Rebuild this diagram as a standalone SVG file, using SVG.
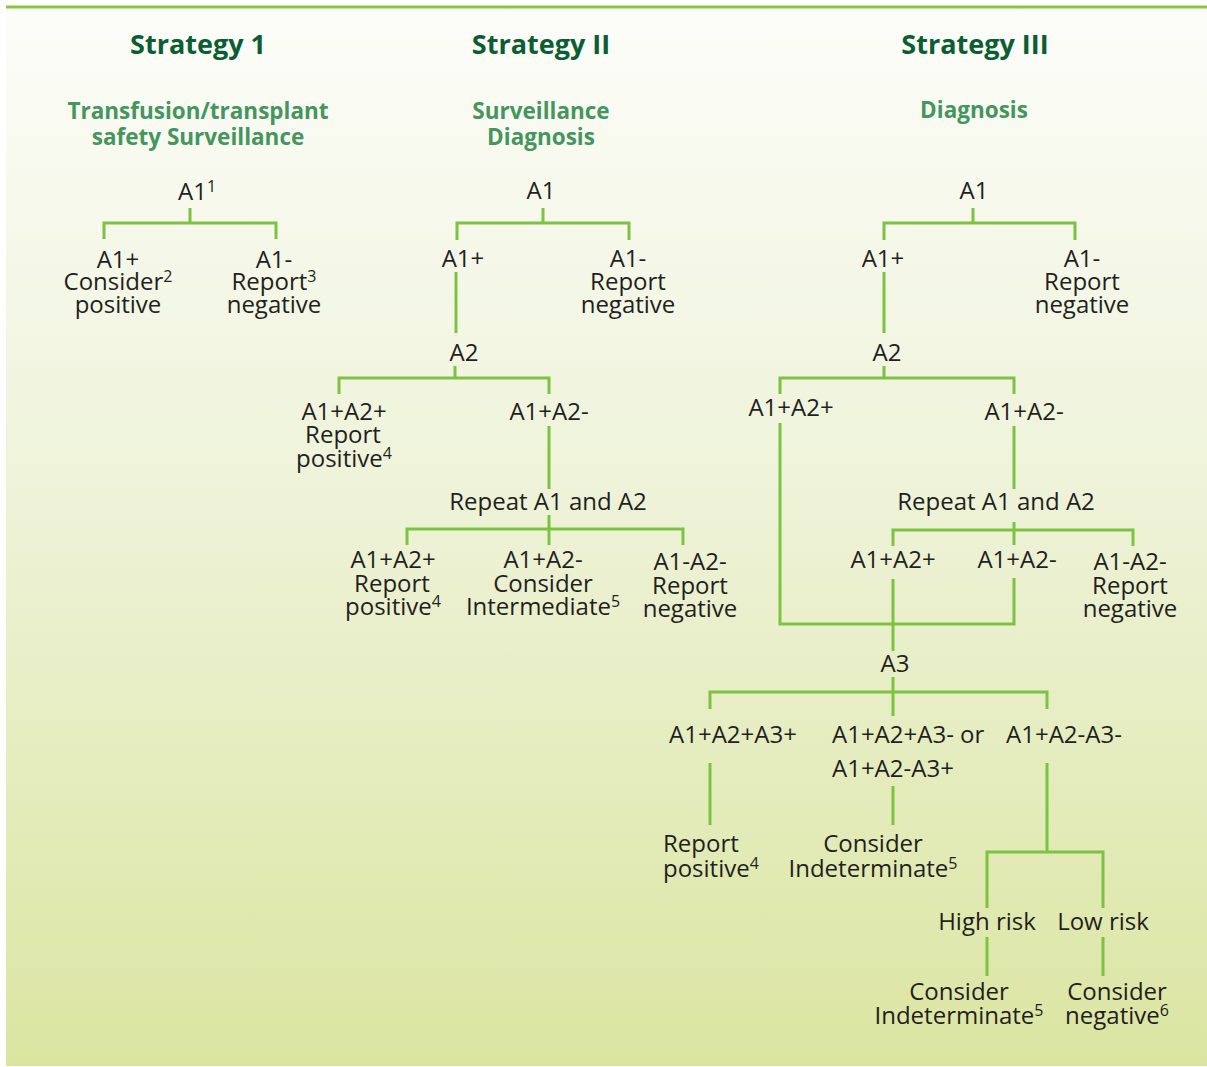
<svg xmlns="http://www.w3.org/2000/svg" width="1207" height="1067" viewBox="0 0 1207 1067">
<defs>
<linearGradient id="bg" x1="0" y1="0" x2="0" y2="1">
<stop offset="0" stop-color="#fcfdf9"/>
<stop offset="0.45" stop-color="#eef3d9"/>
<stop offset="1" stop-color="#dbe5a1"/>
</linearGradient>
<style>
.t{font-family:"Open Sans","Liberation Sans",sans-serif;font-size:24px;fill:#231f20;text-anchor:middle}
.h{font-family:"Open Sans","Liberation Sans",sans-serif;font-size:27px;font-weight:bold;fill:#0b5e33;text-anchor:middle}
.s{font-family:"Open Sans","Liberation Sans",sans-serif;font-size:22.5px;font-weight:bold;fill:#45955f;text-anchor:middle}
.l{text-anchor:start}
.sup{font-size:16px}
.c{fill:none;stroke:#7dc242;stroke-width:3}
</style>
</defs>
<rect x="0" y="0" width="1207" height="1067" fill="#ffffff"/>
<rect x="6" y="7" width="1201" height="1059" fill="url(#bg)"/>
<line x1="6" y1="7" x2="1207" y2="7" stroke="#8cc540" stroke-width="3"/>

<g id="connectors">
<path class="c" d="M190 208V223M104 239V223H276V239"/>
<path class="c" d="M543 208V223M457 240V223H629V240"/>
<path class="c" d="M456 272V333"/>
<path class="c" d="M455 366V378M339 394V378H549V394"/>
<path class="c" d="M549 426V489"/>
<path class="c" d="M549 515V545M407 545V529H683V545"/>
<path class="c" d="M973 208V223M884 240V223H1075V240"/>
<path class="c" d="M884 272V333"/>
<path class="c" d="M884 366V378M780 394V378H1014V394"/>
<path class="c" d="M780 423V624H1014V578"/>
<path class="c" d="M1014 426V489"/>
<path class="c" d="M1014 522V545M893 546V530H1133V546"/>
<path class="c" d="M893 579V651"/>
<path class="c" d="M893 677V716M710 709V692H1047V709"/>
<path class="c" d="M710 763V825"/>
<path class="c" d="M893 786V825"/>
<path class="c" d="M1047 763V852M987 908V852H1103V908"/>
<path class="c" d="M987 937V976M1103 937V976"/>
</g>

<g id="headings">
<text class="h" x="198" y="54">Strategy 1</text>
<text class="h" x="541" y="54">Strategy II</text>
<text class="h" x="975" y="54">Strategy III</text>
<text class="s" x="198" y="119">Transfusion/transplant</text>
<text class="s" x="198" y="145">safety Surveillance</text>
<text class="s" x="541" y="119">Surveillance</text>
<text class="s" x="541" y="145">Diagnosis</text>
<text class="s" x="974" y="118">Diagnosis</text>
</g>

<g id="s1-a1"><text class="t" x="197" y="200">A1<tspan class="sup" dy="-8">1</tspan></text></g>
<g id="s1-pos"><text class="t" x="118" y="268">A1+</text><text class="t" x="118" y="290">Consider<tspan class="sup" dy="-8">2</tspan></text><text class="t" x="118" y="313">positive</text></g>
<g id="s1-neg"><text class="t" x="274" y="268">A1-</text><text class="t" x="274" y="290">Report<tspan class="sup" dy="-8">3</tspan></text><text class="t" x="274" y="313">negative</text></g>

<g id="s2-a1"><text class="t" x="541" y="199">A1</text></g>
<g id="s2-pos"><text class="t" x="463" y="267">A1+</text></g>
<g id="s2-neg"><text class="t" x="628" y="267">A1-</text><text class="t" x="628" y="290">Report</text><text class="t" x="628" y="313">negative</text></g>
<g id="s2-a2"><text class="t" x="464" y="361">A2</text></g>
<g id="s2-pp"><text class="t" x="344" y="420">A1+A2+</text><text class="t" x="343" y="443">Report</text><text class="t" x="344" y="467">positive<tspan class="sup" dy="-8">4</tspan></text></g>
<g id="s2-pm"><text class="t" x="549" y="420">A1+A2-</text></g>
<g id="s2-repeat"><text class="t" x="548" y="510">Repeat A1 and A2</text></g>
<g id="s2-r-pp"><text class="t" x="393" y="568">A1+A2+</text><text class="t" x="392" y="592">Report</text><text class="t" x="393" y="615">positive<tspan class="sup" dy="-8">4</tspan></text></g>
<g id="s2-r-pm"><text class="t" x="543" y="568">A1+A2-</text><text class="t" x="543" y="592">Consider</text><text class="t" x="543" y="615">Intermediate<tspan class="sup" dy="-8">5</tspan></text></g>
<g id="s2-r-mm"><text class="t" x="690" y="570">A1-A2-</text><text class="t" x="690" y="594">Report</text><text class="t" x="690" y="617">negative</text></g>

<g id="s3-a1"><text class="t" x="974" y="199">A1</text></g>
<g id="s3-pos"><text class="t" x="883" y="267">A1+</text></g>
<g id="s3-neg"><text class="t" x="1082" y="267">A1-</text><text class="t" x="1082" y="290">Report</text><text class="t" x="1082" y="313">negative</text></g>
<g id="s3-a2"><text class="t" x="887" y="361">A2</text></g>
<g id="s3-pp"><text class="t" x="791" y="416">A1+A2+</text></g>
<g id="s3-pm"><text class="t" x="1024" y="420">A1+A2-</text></g>
<g id="s3-repeat"><text class="t" x="996" y="510">Repeat A1 and A2</text></g>
<g id="s3-r-pp"><text class="t" x="893" y="568">A1+A2+</text></g>
<g id="s3-r-pm"><text class="t" x="1017" y="568">A1+A2-</text></g>
<g id="s3-r-mm"><text class="t" x="1130" y="570">A1-A2-</text><text class="t" x="1130" y="594">Report</text><text class="t" x="1130" y="617">negative</text></g>
<g id="s3-a3"><text class="t" x="895" y="672">A3</text></g>
<g id="s3-ppp"><text class="t" x="733" y="743">A1+A2+A3+</text></g>
<g id="s3-mixed"><text class="t l" x="832" y="743">A1+A2+A3- or</text><text class="t l" x="832" y="777">A1+A2-A3+</text></g>
<g id="s3-pmm"><text class="t" x="1064" y="743">A1+A2-A3-</text></g>
<g id="s3-report-pos"><text class="t l" x="663" y="852">Report</text><text class="t l" x="663" y="877">positive<tspan class="sup" dy="-8">4</tspan></text></g>
<g id="s3-indet"><text class="t" x="873" y="852">Consider</text><text class="t" x="873" y="877">Indeterminate<tspan class="sup" dy="-8">5</tspan></text></g>
<g id="s3-high"><text class="t" x="987" y="930">High risk</text></g>
<g id="s3-low"><text class="t" x="1103" y="930">Low risk</text></g>
<g id="s3-high-out"><text class="t" x="959" y="1000">Consider</text><text class="t" x="959" y="1024">Indeterminate<tspan class="sup" dy="-8">5</tspan></text></g>
<g id="s3-low-out"><text class="t" x="1117" y="1000">Consider</text><text class="t" x="1117" y="1024">negative<tspan class="sup" dy="-8">6</tspan></text></g>
</svg>
